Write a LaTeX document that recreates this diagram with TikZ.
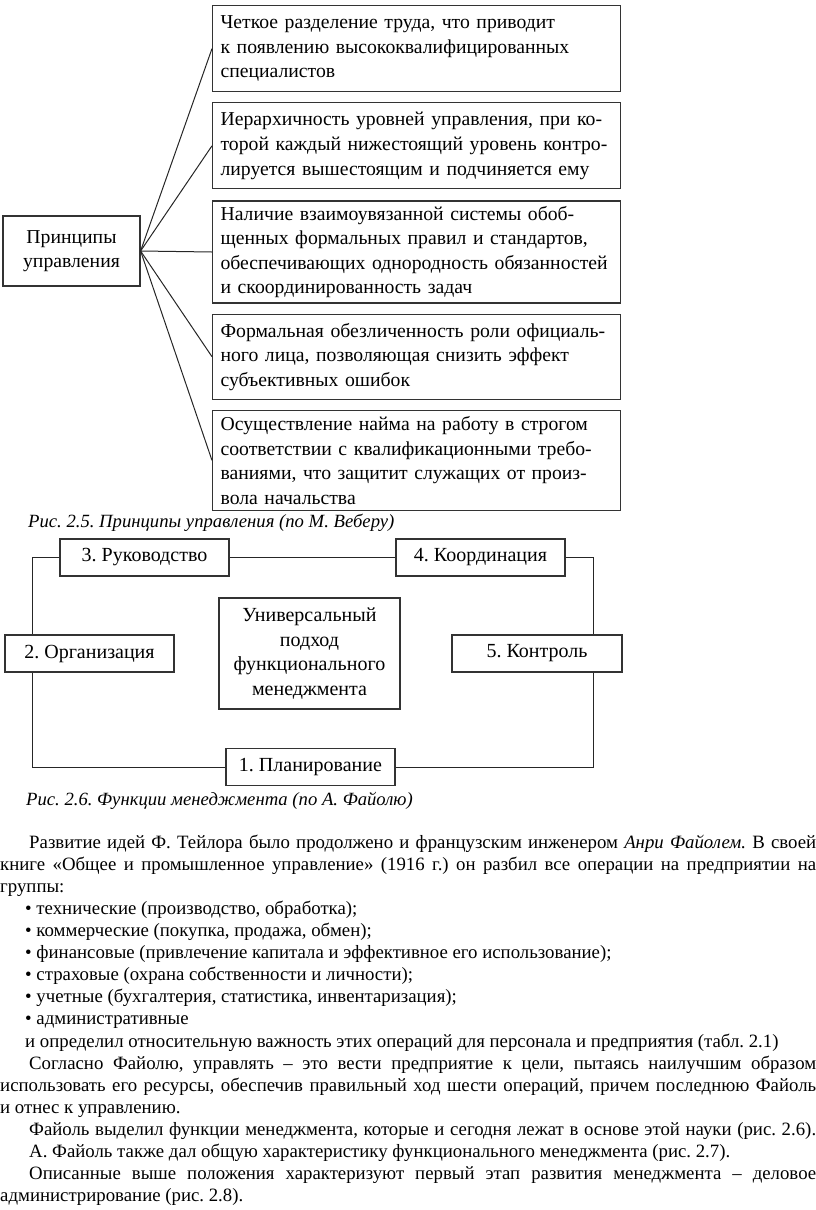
\documentclass[tikz,border=0pt]{standalone}
\usepackage{fontspec}
\setmainfont{Liberation Serif}
\usetikzlibrary{positioning}
\frenchspacing

\begin{document}
\begin{tikzpicture}[x=1pt, y=-1pt,
		wbox/.style={draw=black!80, line width=1.2pt, anchor=north west, text width=392pt, inner xsep=8pt, inner ysep=2pt, minimum height=86pt, align=left, font=\fontsize{19.7}{24.6}\selectfont},
		funcbox/.style={draw=black!80, line width=1.1pt, minimum width=169pt, minimum height=37pt, inner sep=0pt, font=\fontsize{20}{24.5}\selectfont},
		figcap/.style={anchor=base west, inner sep=0pt, font=\fontsize{18.67}{22}\selectfont\itshape},
		link/.style={draw=black!85, line width=1pt}]
	\useasboundingbox (0,0) rectangle (816,1210);
	\node[draw=black!80, line width=1.2pt, minimum width=137pt, minimum height=70pt, inner sep=0pt, align=center, font=\fontsize{19.7}{24.6}\selectfont] (prin) at (71.5,251) {Принципы\\управления};
	\node[wbox] (w1) at (212,5) {Четкое разделение труда, что приводит\\к появлению высококвалифицированных\\специалистов};
	\node[wbox, below=10pt of w1] (w2) {Иерархичность уровней управления, при ко-\\торой каждый нижестоящий уровень контро-\\лируется вышестоящим и подчиняется ему};
	\node[wbox, below=11pt of w2, minimum height=102pt] (w3) {Наличие взаимоувязанной системы обоб-\\щенных формальных правил и стандартов,\\обеспечивающих однородность обязанностей\\и скоординированность задач};
	\node[wbox, below=10pt of w3, minimum height=85pt] (w4) {Формальная обезличенность роли официаль-\\ного лица, позволяющая снизить эффект\\субъективных ошибок};
	\node[wbox, below=10pt of w4, minimum height=100pt] (w5) {Осуществление найма на работу в строгом\\соответствии с квалификационными требо-\\ваниями, что защитит служащих от произ-\\вола начальства};
	\foreach \w in {w1,w2,w3,w4,w5}
		\draw[link] (prin.east) -- (\w.west);
	\node[figcap] (cap25) at (28,527) {Рис. 2.5. Принципы управления (по М. Веберу)};

	\node[funcbox] (ruk) at (144.5,557.5) {3. Руководство};
	\node[funcbox] (koord) at (480.5,557.5) {4. Координация};
	\node[funcbox] (org) at (89.5,653.5) {2. Организация};
	\node[funcbox, minimum width=170pt] (kontr) at (537,653.5) {5. Контроль};
	\node[funcbox] (plan) at (310.5,767) {1. Планирование};
	\node[funcbox, minimum width=181pt, minimum height=111pt, align=center] (univ) at (309.5,653.5) {Универсальный\\подход\\функционального\\менеджмента};
	\coordinate (lx) at (32,0);
	\coordinate (rx) at (593,0);
	\draw[link] (ruk.west) -| (org.north -| lx);
	\draw[link] (org.south -| lx) |- (plan.west);
	\draw[link] (ruk.east) -- (koord.west);
	\draw[link] (koord.east) -| (kontr.north -| rx);
	\draw[link] (kontr.south -| rx) |- (plan.east);
	\node[figcap] (cap26) at (26,805) {Рис. 2.6. Функции менеджмента (по А. Файолю)};

	\node[anchor=north west, inner sep=0pt, text width=816pt, font=\fontsize{18.8}{22.1}\selectfont] (body) at (0,832.5) {%
		\spaceskip=0.25em plus 0.5em minus 0.09em\relax
		\noindent\strut\makebox[816pt][s]{\hspace*{29pt}Развитие идей Ф. Тейлора было продолжено и французским инженером \textit{Анри Файолем.} В своей}\\
		\makebox[816pt][s]{книге «Общее и промышленное управление» (1916 г.) он разбил все операции на предприятии на}\\
		группы:\\
		\hspace*{25pt}• технические (производство, обработка);\\
		\hspace*{25pt}• коммерческие (покупка, продажа, обмен);\\
		\hspace*{25pt}• финансовые (привлечение капитала и эффективное его использование);\\
		\hspace*{25pt}• страховые (охрана собственности и личности);\\
		\hspace*{25pt}• учетные (бухгалтерия, статистика, инвентаризация);\\
		\hspace*{25pt}• административные\\
		\makebox[816pt][l]{\hspace*{25pt}и определил относительную важность этих операций для персонала и предприятия (табл. 2.1)}\\
		\makebox[816pt][s]{\hspace*{29pt}Согласно Файолю, управлять – это вести предприятие к цели, пытаясь наилучшим образом}\\
		\makebox[816pt][s]{использовать его ресурсы, обеспечив правильный ход шести операций, причем последнюю Файоль}\\
		и отнес к управлению.\\
		\makebox[816pt][s]{\hspace*{29pt}Файоль выделил функции менеджмента, которые и сегодня лежат в основе этой науки (рис. 2.6).}\\
		\makebox[816pt][l]{\hspace*{29pt}А. Файоль также дал общую характеристику функционального менеджмента (рис. 2.7).}\\
		\makebox[816pt][s]{\hspace*{29pt}Описанные выше положения характеризуют первый этап развития менеджмента – деловое}\\
		администрирование (рис. 2.8).};
\end{tikzpicture}
\end{document}
